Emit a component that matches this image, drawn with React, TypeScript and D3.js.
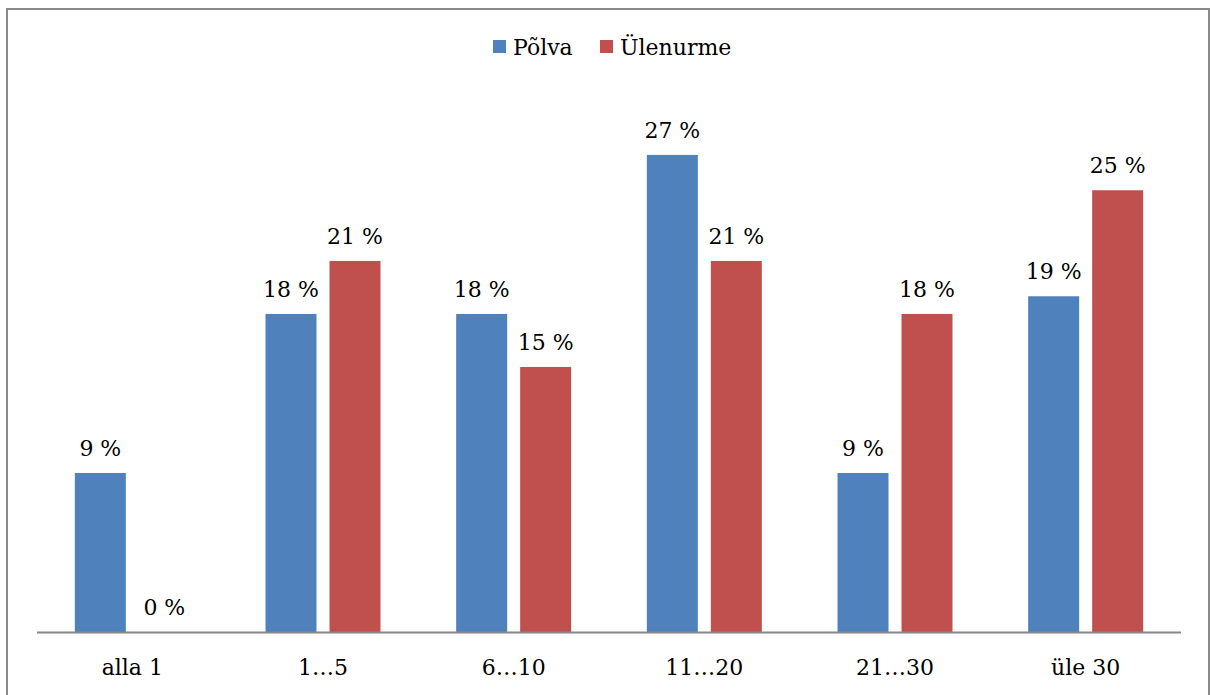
import { useRef, useEffect } from 'react';
import * as d3 from 'd3';

const categories = ['alla 1', '1…5', '6…10', '11…20', '21…30', 'üle 30'];
const seriesNames = ['Põlva', 'Ülenurme'];
const polva = [9, 18, 18, 27, 9, 19];
const ulenurme = [0, 21, 15, 21, 18, 25];
const colors = ['#4F81BD', '#C0504D'];

const FONT = '"DejaVu Serif", serif';
const FS = '22px';

const App = () => {
  const svgRef = useRef<SVGSVGElement>(null);

  useEffect(() => {
    if (!svgRef.current) return;
    const width = 1210;
    const height = 695;
    const left = 37;
    const right = 1181;
    const baseline = 632;

    const svg = d3.select(svgRef.current).attr('width', width).attr('height', height);
    svg.selectAll('*').remove();

    // outer frame
    svg
      .append('rect')
      .attr('x', 7)
      .attr('y', 9)
      .attr('width', 1202)
      .attr('height', 700)
      .attr('fill', 'white')
      .attr('stroke', '#8a8a8a')
      .attr('stroke-width', 2);

    const x0 = d3.scaleBand().domain(categories).range([left, right]);
    const barW = 51;
    const gap = 13;
    const y = d3.scaleLinear().domain([0, 1]).range([baseline, baseline - 17.67]);

    const data = categories.map((c, i) => ({ cat: c, vals: [polva[i], ulenurme[i]] }));

    const groups = svg
      .selectAll('.grp')
      .data(data)
      .enter()
      .append('g')
      .attr('transform', (d) => `translate(${(x0(d.cat) as number) + x0.bandwidth() / 2}, 0)`);

    const barX = (j: number) => (j === 0 ? -gap / 2 - barW : gap / 2);

    groups
      .selectAll('rect')
      .data((d) => d.vals)
      .enter()
      .append('rect')
      .attr('x', (_, j) => barX(j))
      .attr('y', (v) => y(v))
      .attr('width', barW)
      .attr('height', (v) => baseline - y(v))
      .attr('fill', (_, j) => colors[j]);

    groups
      .selectAll('text')
      .data((d) => d.vals)
      .enter()
      .append('text')
      .attr('x', (_, j) => barX(j) + barW / 2)
      .attr('y', (v) => y(v) - 17)
      .attr('text-anchor', 'middle')
      .style('font-family', FONT)
      .style('font-size', FS)
      .attr('fill', '#000')
      .text((v) => `${v} %`);

    // axis line
    svg
      .append('line')
      .attr('x1', left)
      .attr('x2', right)
      .attr('y1', baseline + 0.5)
      .attr('y2', baseline + 0.5)
      .attr('stroke', '#888')
      .attr('stroke-width', 2);

    svg
      .selectAll('.xl')
      .data(categories)
      .enter()
      .append('text')
      .attr('x', (c) => (x0(c) as number) + x0.bandwidth() / 2)
      .attr('y', 675)
      .attr('text-anchor', 'middle')
      .style('font-family', FONT)
      .style('font-size', FS)
      .text((c) => c);

    // legend
    const legendX = [493, 600];
    const legend = svg
      .selectAll('.leg')
      .data(seriesNames)
      .enter()
      .append('g')
      .attr('transform', (_, i) => `translate(${legendX[i]}, 40)`);
    legend
      .append('rect')
      .attr('width', 13)
      .attr('height', 13)
      .attr('fill', (_, i) => colors[i]);
    legend
      .append('text')
      .attr('x', 20)
      .attr('y', 15)
      .style('font-family', FONT)
      .style('font-size', FS)
      .text((d) => d);
  }, []);

  return (
    <svg ref={svgRef} style={{ position: 'absolute', left: 0, top: 0 }}></svg>
  );
};

export default App;
